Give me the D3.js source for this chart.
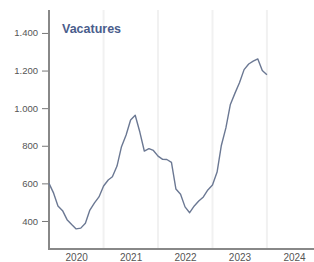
<!DOCTYPE html>
<html>
<head>
<meta charset="utf-8">
<script src="https://cdn.jsdelivr.net/npm/d3@7"></script>
<style>
  body { margin: 0; background: #fff; }
  svg { display: block; font-family: "Liberation Sans", Arial, sans-serif; }
</style>
</head>
<body>
<svg width="314" height="262"></svg>
<script>
  // monthly vacancies, Jan 2020 .. Jan 2024
  const startMonth = new Date(2020, 0, 1);
  const values = [
    600, 548, 480, 455, 407, 381, 358, 362, 388, 458, 496, 528,
    586, 618, 635, 692, 795, 857, 937, 962, 873, 772, 785, 775,
    745, 728, 727, 712, 570, 542, 475, 444, 480, 506, 528, 565,
    591, 660, 800, 895, 1020, 1080, 1135, 1205, 1235, 1250, 1262, 1200,
    1178
  ];
  const yTicks = [400, 600, 800, 1000, 1200, 1400];
  const years = [2020, 2021, 2022, 2023, 2024];
  const title = 'Vacatures';

  (function () {
    const data = values.map((v, i) => ({
      date: new Date(startMonth.getFullYear(), startMonth.getMonth() + i, 1),
      value: v
    }));

    const svg = d3.select('svg');
    const plotLeft = 49, plotTop = 10, plotBottom = 249;

    const xScale = d3.scaleTime()
      .domain([new Date(2020, 0, 1), new Date(2025, 0, 1)])
      .range([plotLeft, plotLeft + 5 * 54.5]);

    const yScale = d3.scaleLinear()
      .domain([251, 1522])
      .range([plotBottom, plotTop]);

    const nl = d3.formatLocale({ decimal: ',', thousands: '.', grouping: [3], currency: ['', ''] });
    const fmt = nl.format(',');

    // vertical grid lines at year boundaries
    svg.append('g').selectAll('line')
      .data(years.slice(1))
      .enter().append('line')
        .attr('x1', d => xScale(new Date(d, 0, 1)))
        .attr('x2', d => xScale(new Date(d, 0, 1)))
        .attr('y1', plotTop)
        .attr('y2', plotBottom)
        .attr('stroke', '#f1f1f1')
        .attr('stroke-width', 2);

    const yAxis = d3.axisLeft(yScale)
      .tickValues(yTicks)
      .tickFormat(fmt)
      .tickSize(6)
      .tickPadding(4);

    const yAxisG = svg.append('g')
      .attr('transform', `translate(${plotLeft - 1},0)`)
      .call(yAxis);
    yAxisG.select('.domain').remove();
    yAxisG.selectAll('.tick line').attr('stroke', '#777');
    yAxisG.selectAll('.tick text')
      .attr('fill', '#555')
      .style('font-size', '9.5px');

    const xAxis = d3.axisBottom(xScale)
      .tickValues(years.map(y => new Date(y, 6, 1)))
      .tickFormat(d3.timeFormat('%Y'))
      .tickSize(0)
      .tickPadding(5);

    const xAxisG = svg.append('g')
      .attr('transform', `translate(0,${plotBottom})`)
      .call(xAxis);
    xAxisG.select('.domain').remove();
    xAxisG.selectAll('.tick text')
      .attr('fill', '#555')
      .style('font-size', '10px');

    // axis lines
    svg.append('line')
      .attr('x1', plotLeft).attr('x2', plotLeft)
      .attr('y1', plotTop).attr('y2', plotBottom + 1)
      .attr('stroke', '#888').attr('stroke-width', 2);
    svg.append('line')
      .attr('x1', plotLeft - 1).attr('x2', 314)
      .attr('y1', plotBottom).attr('y2', plotBottom)
      .attr('stroke', '#888').attr('stroke-width', 2);

    const line = d3.line()
      .x(d => xScale(d.date))
      .y(d => yScale(d.value));

    svg.append('path')
      .datum(data)
      .attr('d', line)
      .attr('fill', 'none')
      .attr('stroke', '#6b7893')
      .attr('stroke-width', 1.4)
      .attr('stroke-linejoin', 'round');

    svg.append('text')
      .attr('x', 62)
      .attr('y', 33)
      .attr('fill', '#4a5d8c')
      .style('font-size', '12.5px')
      .style('font-weight', 'bold')
      .text(title);
  })();
</script>
</body>
</html>
